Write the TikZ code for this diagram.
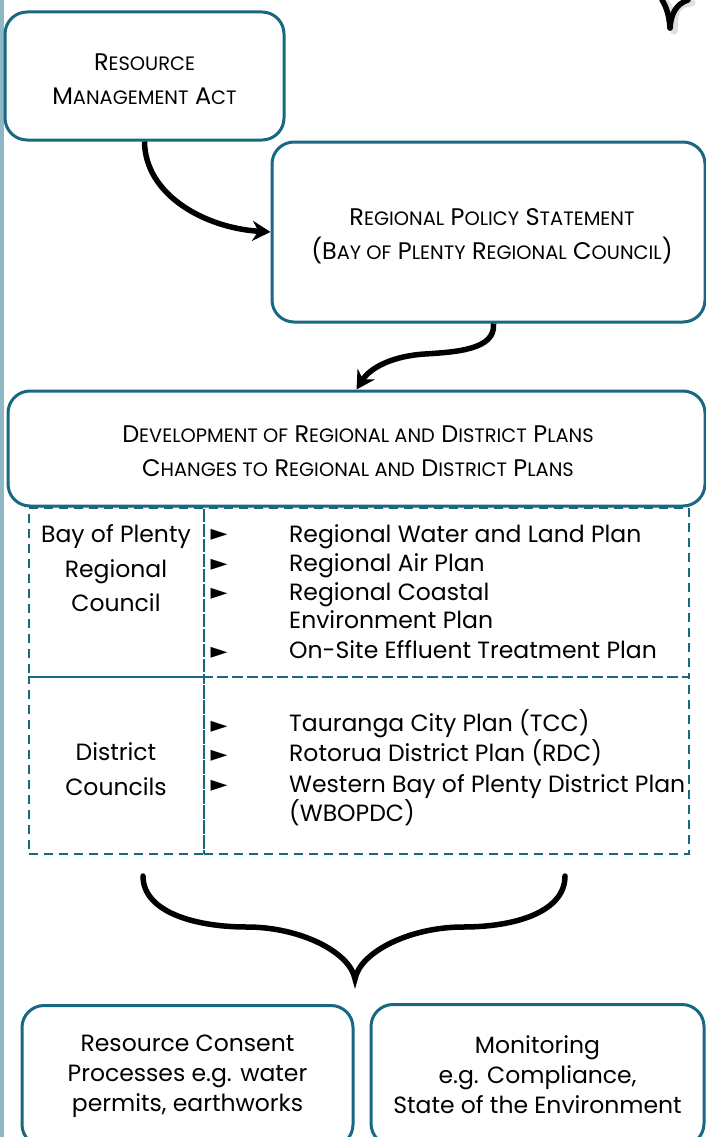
\documentclass[tikz,border=0pt]{standalone}
\usepackage{fontspec}
\setmainfont{Poppins}
\newfontfamily\symf{DejaVu Sans}
\usetikzlibrary{arrows.meta,calc}
\definecolor{teal1}{RGB}{24,104,130}
\definecolor{barc}{RGB}{143,184,198}
\newcommand\sC[1]{{\fontsize{19.4}{34}\selectfont #1}}
\begin{document}
\begin{tikzpicture}[x=1pt,y=-1pt,
  box/.style={draw=teal1, line width=3pt, rounded corners=22pt, align=center, inner sep=0pt, font=\fontsize{24}{34}\selectfont},
  btxt/.style={align=center, inner sep=0pt, font=\fontsize{24}{34}\selectfont},
  arr/.style={line width=5.5pt, -{Stealth[length=18pt,width=20pt]}},
  cell/.style={draw=teal1, line width=2.6pt, dash pattern=on 9pt off 6pt, inner sep=0pt},
  txt/.style={inner sep=0pt, font=\fontsize{23.5}{30}\selectfont},
  bul/.style={inner sep=0pt, font=\symf\fontsize{22}{22}\selectfont},
  brace/.style={line width=5.5pt, line cap=round}]
\useasboundingbox (0,0) rectangle (706,1137);
\fill[white] (0,0) rectangle (706,1137);
% left bar
\fill[barc] (0,0) rectangle (4,1137);
% top-right Y fragment
\coordinate (ya) at (662,0);
\coordinate (yb) at (688,0);
\coordinate (yc) at (670,28);
\draw[gray!25, line width=7pt, line cap=round] ($(ya)+(4,3)$) .. controls ($(ya)+(9,8)$) and ($(yc)+(3,-12)$) .. ($(yc)+(4,3)$);
\draw[gray!25, line width=7pt, line cap=round] ($(yb)+(4,3)$) .. controls ($(yb)+(-14,4)$) and ($(yc)+(5,-14)$) .. ($(yc)+(4,3)$);
\draw[brace] (ya) .. controls (667,8) and (669,16) .. (yc);
\draw[brace] (yb) .. controls (676,4) and (671,14) .. (yc);
% main boxes
\node[box, minimum width=279pt, minimum height=128pt] (rma) at (144.5,76) {};
\node[btxt] (rmaT) at (144.5,79) {R\sC{ESOURCE}\\M\sC{ANAGEMENT} A\sC{CT}};
\node[box, minimum width=433pt, minimum height=180pt] (rps) at (488.5,232) {};
\node[btxt] (rpsT) at (492,236)
  {R\sC{EGIONAL} P\sC{OLICY} S\sC{TATEMENT}\\(B\sC{AY OF} P\sC{LENTY} R\sC{EGIONAL} C\sC{OUNCIL})};
\node[box, minimum width=697pt, minimum height=115pt] (dev) at (356.5,448.5) {};
\node[btxt] (devT) at (358,451.5)
  {D\sC{EVELOPMENT OF} R\sC{EGIONAL AND} D\sC{ISTRICT} P\sC{LANS}\\C\sC{HANGES TO} R\sC{EGIONAL AND} D\sC{ISTRICT} P\sC{LANS}};
% arrows
\draw[arr] (rma.south) .. controls (145,195) and (205,228) .. (rps.west);
\draw[arr] ($(rps.south)+(5,0)$) .. controls (496,350) and (455,352) .. (425,354) .. controls (392,356) and (370,368) .. (dev.north);
% table cells
\node[cell, minimum width=175pt, minimum height=169pt] (c1) at (116.5,592.5) {};
\node[cell, minimum width=485pt, minimum height=169pt] (c2) at (446.5,592.5) {};
\node[cell, minimum width=175pt, minimum height=177pt] (c3) at (116.5,765.5) {};
\node[cell, minimum width=485pt, minimum height=177pt] (c4) at (446.5,765.5) {};
% left column texts
\node[txt, anchor=base] (l1) at (116,542) {Bay of Plenty};
\node[txt, anchor=base] (l2) at (116,577) {Regional};
\node[txt, anchor=base] (l3) at (116,611) {Council};
\node[txt, anchor=base] (l4) at (116,760) {District};
\node[txt, anchor=base] (l5) at (116,795) {Councils};
% right column lists
\node[bul] (b1) at (219,535) {►};
\node[bul] (b2) at (219,565) {►};
\node[bul] (b3) at (219,594) {►};
\node[bul] (b4) at (219,653) {►};
\node[txt, anchor=base west] (r1) at (289,542) {Regional Water and Land Plan};
\node[txt, anchor=base west] (r2) at (289,571) {Regional Air Plan};
\node[txt, anchor=base west] (r3) at (289,600) {Regional Coastal};
\node[txt, anchor=base west] (r4) at (289,628) {Environment Plan};
\node[txt, anchor=base west] (r5) at (289,658) {On-Site Effluent Treatment Plan};
\node[bul] (b5) at (219,727) {►};
\node[bul] (b6) at (219,756) {►};
\node[bul] (b7) at (219,786) {►};
\node[txt, anchor=base west] (r6) at (289,731) {Tauranga City Plan (TCC)};
\node[txt, anchor=base west] (r7) at (289,761) {Rotorua District Plan (RDC)};
\node[txt, anchor=base west] (r8) at (289,792) {Western Bay of Plenty District Plan};
\node[txt, anchor=base west] (r9) at (289,821) {(WBOPDC)};
% brace
\coordinate (bl) at (143,876);
\coordinate (bm) at (355,979);
\coordinate (br) at (565,876);
\draw[brace] (bl) .. controls (143,912) and (195,927) .. (247,927)
  .. controls (300,927) and (350,952) .. (bm)
  .. controls (360,952) and (410,927) .. (463,927)
  .. controls (515,927) and (565,912) .. (br);
% bottom boxes
\node[box, minimum width=331pt, minimum height=141pt, font=\fontsize{23.5}{30}\selectfont] (rc) at (187.5,1076)
  {Resource Consent\\Processes e.g. water\\permits, earthworks};
\node[box, minimum width=333pt, minimum height=141pt, font=\fontsize{23.5}{30}\selectfont] (mon) at (537.5,1075)
  {Monitoring\\e.g. Compliance,\\State of the Environment};
\end{tikzpicture}
\end{document}
